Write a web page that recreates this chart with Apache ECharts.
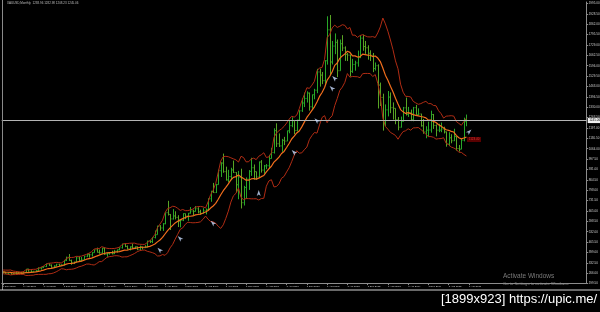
<!DOCTYPE html>
<html>
<head>
<meta charset="utf-8">
<script src="https://cdn.jsdelivr.net/npm/echarts@6/dist/echarts.min.js"></script>
<style>
html,body{margin:0;padding:0;background:#000;}
#c{width:600px;height:312px;}
</style>
</head>
<body>
<div id="c"></div>
<script>
// Monthly XAUUSD bars, Dec 2000 .. Mar 2016 (184 bars)
const monthNames = ['Jan','Feb','Mar','Apr','May','Jun','Jul','Aug','Sep','Oct','Nov','Dec'];
const startYear = 2000, startMonth = 11; // Dec 2000
const totalSlots = 231; // includes empty chart-shift area on the right

const closesBefore = [279,275,272,288,276,277,273,264,270]; // Mar..Nov 2000

const opens = [269,
 272,265,267,258,264,267,270,266,273,293,279,275,
 279,282,297,302,309,326,318,304,312,324,317,319,
 347,368,348,335,337,364,346,355,375,385,384,398,
 416,400,397,427,387,394,395,391,408,416,429,453,
 438,423,435,429,436,417,435,429,433,473,470,495,
 513,569,556,583,654,643,614,633,624,599,604,648,
 632,651,665,662,679,659,650,666,673,743,789,783,
 834,923,972,917,864,886,928,912,833,880,718,815,
 869,919,942,917,883,979,927,954,955,1001,1040,1180,
 1096,1082,1118,1113,1179,1212,1244,1181,1247,1307,1357,1386,
 1421,1333,1410,1439,1556,1536,1500,1628,1826,1620,1722,1746,
 1564,1737,1710,1669,1664,1560,1604,1614,1648,1773,1719,1711,
 1676,1663,1578,1596,1472,1393,1234,1313,1395,1327,1323,1250,
 1202,1240,1326,1284,1296,1250,1327,1282,1287,1211,1172,1183,
 1184,1283,1213,1183,1183,1190,1172,1095,1134,1115,1142,1065,
 1061,1118,1238];

const highs = [275,
 273,270,270,266,280,276,272,280,293,294,285,281,
 286,304,304,311,327,330,322,317,326,326,323,349,
 372,389,353,341,373,373,370,378,391,392,400,417,
 430,418,428,430,397,398,410,416,418,430,455,457,
 444,438,456,438,437,443,436,446,474,478,496,540,
 570,574,587,655,730,645,677,663,638,611,650,648,
 652,690,673,697,689,673,683,681,746,795,845,839,
 930,977,1033,949,929,942,988,914,922,936,826,880,
 927,1006,963,917,982,991,960,966,1025,1070,1195,1227,
 1162,1127,1140,1180,1249,1265,1244,1250,1310,1388,1424,1432,
 1424,1411,1448,1576,1577,1556,1632,1913,1921,1755,1803,1764,
 1764,1792,1720,1678,1668,1640,1628,1693,1790,1796,1755,1727,
 1695,1678,1617,1605,1488,1417,1348,1434,1425,1361,1323,1267,
 1270,1332,1392,1332,1315,1332,1345,1323,1288,1255,1208,1238,
 1308,1287,1220,1224,1232,1205,1174,1170,1157,1192,1143,1088,
 1128,1263,1283];

const lows = [266,
 262,256,255,255,262,264,263,265,269,276,271,273,
 277,281,289,299,306,313,302,301,311,312,315,316,
 344,346,320,325,336,342,342,351,369,366,373,398,
 399,391,392,384,371,385,387,389,398,413,424,433,
 418,412,425,421,414,414,418,429,432,460,459,489,
 513,538,537,580,636,543,610,611,562,560,600,613,
 602,648,637,661,650,642,648,643,670,724,781,780,
 834,883,910,860,849,862,909,786,740,681,700,742,
 800,890,865,866,882,911,904,933,938,1001,1033,1075,
 1075,1044,1087,1113,1163,1202,1157,1175,1242,1300,1331,1360,
 1308,1320,1381,1420,1462,1478,1480,1603,1535,1604,1670,1523,
 1564,1690,1627,1626,1527,1550,1564,1590,1645,1692,1672,1635,
 1626,1555,1565,1322,1338,1180,1208,1271,1292,1251,1221,1182,
 1200,1238,1277,1268,1241,1240,1281,1279,1206,1160,1131,1142,
 1167,1191,1143,1170,1170,1162,1077,1080,1099,1113,1052,1046,
 1061,1111,1208];

const closes = [272,
 265,267,258,264,267,270,266,273,293,279,275,279,
 282,297,302,309,326,318,304,312,324,317,319,347,
 368,348,335,337,364,346,355,375,385,384,398,416,
 400,397,427,387,394,395,391,408,416,429,453,438,
 423,435,429,436,417,435,429,433,473,470,495,513,
 569,556,583,654,643,614,633,624,599,604,648,632,
 651,665,662,679,659,650,666,673,743,789,783,834,
 923,972,917,864,886,928,912,833,880,718,815,869,
 919,942,917,883,979,927,954,955,1001,1040,1180,1096,
 1082,1118,1113,1179,1212,1244,1181,1247,1307,1357,1386,1421,
 1333,1410,1439,1556,1536,1500,1628,1826,1620,1722,1746,1564,
 1737,1710,1669,1664,1560,1604,1614,1648,1773,1719,1711,1676,
 1663,1578,1596,1472,1393,1234,1313,1395,1327,1323,1250,1202,
 1240,1326,1284,1296,1250,1327,1282,1287,1211,1172,1183,1184,
 1283,1213,1183,1183,1190,1172,1095,1134,1115,1142,1065,1061,
 1118,1238,1245];

// Arrow objects on the chart: [bar index, price]
const arrowPoints = [[61,429],[69,504],[82,602],[101,799],[114,1056],[123,1259],[129,1466],[130,1530],[185,1188]];
const redLabelPoint = [186,1123];
const redLabelText = '1123.40';
const currentPrice = 1245.06;
const headerText = 'XAUUSD,Monthly  1238.96 1282.98 1208.23 1245.06';

// y-axis ticks
const yMin = 199.5, yMax = 2004.5, yStep = 66.5;

// ---- build ----
const categories = [];
for (let i = 0; i < totalSlots; i++) {
  const m = (startMonth + i) % 12;
  const y = startYear + Math.floor((startMonth + i) / 12);
  categories.push('1 ' + monthNames[m] + ' ' + y);
}
const lastLabelIndex = 184;
const showLabel = (idx) => idx % 8 === 0 && idx <= lastLabelIndex;

// Bollinger Bands (10, 2) as drawn by the terminal
const allCloses = closesBefore.concat(closes);
const bbMid = [], bbUp = [], bbLo = [];
for (let i = 0; i < closes.length; i++) {
  const w = allCloses.slice(i, i + 10);
  const mean = w.reduce((a, b) => a + b, 0) / w.length;
  const sd = Math.sqrt(w.reduce((a, b) => a + (b - mean) * (b - mean), 0) / w.length);
  bbMid.push(+mean.toFixed(2));
  bbUp.push(+(mean + 2 * sd).toFixed(2));
  bbLo.push(+(mean - 2 * sd).toFixed(2));
}

const barData = closes.map((c, i) => [i, opens[i], highs[i], lows[i], c]);
const arrowRot = [45,45,45,0,45,45,45,45,-45];

const chart = echarts.init(document.getElementById('c'), null, {renderer:'canvas'});
chart.setOption({
  backgroundColor: '#000',
  animation: false,
  grid: {left: 1.7, right: 13.3, top: 2, bottom: 28.4, outerBoundsMode: 'none', containLabel: false},
  xAxis: {
    type: 'category', data: categories, boundaryGap: true,
    axisLine: {show: true, lineStyle: {color: '#8c8c8c', width: 1}},
    axisTick: {show: true, alignWithLabel: true, interval: (i) => showLabel(i), length: 1.5, lineStyle: {color: '#8c8c8c'}},
    axisLabel: {interval: (i) => showLabel(i), align: 'left', fontSize: 2.5, color: '#d8d8d8', margin: 1.5, fontFamily: 'Liberation Sans'},
    splitLine: {show: false}
  },
  yAxis: {
    type: 'value', position: 'right', min: yMin, max: yMax, interval: yStep, scale: true,
    axisLine: {show: true, lineStyle: {color: '#8c8c8c', width: 1}},
    axisTick: {show: true, length: 1.5, lineStyle: {color: '#8c8c8c'}},
    axisLabel: {showMaxLabel: false, fontSize: 3, color: '#d0d0d0', margin: 2, fontFamily: 'Liberation Sans', formatter: (v) => v.toFixed(2)},
    splitLine: {show: false}
  },
  series: [
    {
      type: 'custom', name: 'bars', data: barData, encode: {x: 0, y: [1, 2, 3, 4]}, z: 2,
      renderItem: function (params, api) {
        const i = api.value(0);
        const o = api.value(1), h = api.value(2), l = api.value(3), c = api.value(4);
        const pH = api.coord([i, h]), pL = api.coord([i, l]);
        const pO = api.coord([i, o]), pC = api.coord([i, c]);
        const x = Math.round(pH[0]) + 0.5;
        const col = c >= o ? '#28a828' : '#58a424';
        const st = {stroke: col, lineWidth: 1};
        return {type: 'group', children: [
          {type: 'line', shape: {x1: x, y1: pH[1], x2: x, y2: pL[1]}, style: st},
          {type: 'line', shape: {x1: x - 1, y1: pO[1], x2: x, y2: pO[1]}, style: st},
          {type: 'line', shape: {x1: x, y1: pC[1], x2: x + 1, y2: pC[1]}, style: st}
        ]};
      }
    },
    {type: 'line', name: 'upper', data: bbUp, symbol: 'none', smooth: false, z: 3, lineStyle: {color: '#b02c14', width: 1}},
    {type: 'line', name: 'lower', data: bbLo, symbol: 'none', smooth: false, z: 3, lineStyle: {color: '#b02c14', width: 1}},
    {type: 'line', name: 'middle', data: bbMid, symbol: 'none', smooth: false, z: 4, lineStyle: {color: '#f26e1c', width: 1.2},
      markLine: {
        silent: true, symbol: 'none', animation: false,
        lineStyle: {color: '#b4b4b4', type: 'solid', width: 1},
        label: {show: true, position: 'end', distance: 1, formatter: currentPrice.toFixed(2), color: '#000', backgroundColor: '#f0f0f0', fontSize: 3, padding: [1.2, 1.5, 1, 1.5], fontFamily: 'Liberation Sans'},
        data: [{yAxis: currentPrice}]
      }
    },
    {type: 'scatter', name: 'arrows', z: 5,
      data: arrowPoints.map((p, k) => ({value: p, symbolRotate: arrowRot[k]})),
      symbol: 'arrow', symbolSize: [3, 6], itemStyle: {color: '#c8dcff'}
    },
    {type: 'scatter', name: 'redlabel', z: 5, data: [redLabelPoint], symbol: 'rect', symbolSize: [14, 5],
      itemStyle: {color: '#6e0000'},
      label: {show: true, position: 'inside', formatter: redLabelText, color: '#ff4040', fontSize: 3, fontFamily: 'Liberation Sans'}
    }
  ],
  graphic: [
    {type: 'line', shape: {x1: 2.5, y1: 0, x2: 2.5, y2: 290}, style: {stroke: '#8a8a8a', lineWidth: 1}, z: 10},
    {type: 'line', shape: {x1: 0, y1: 290, x2: 600, y2: 290}, style: {stroke: '#d2d2d2', lineWidth: 1.2}, z: 10},
    {type: 'text', left: 7, top: 1.5, style: {text: headerText, fill: '#bdbdbd', fontSize: 3, fontFamily: 'Liberation Sans'}, z: 10},
    {type: 'text', left: 503, top: 272.5, style: {text: 'Activate Windows', fill: '#7a7a7a', fontSize: 6.5, fontFamily: 'Liberation Sans'}, z: 10},
    {type: 'text', left: 503, top: 282, style: {text: 'Go to Settings to activate Windows.', fill: '#8a8a8a', fontSize: 4.2, fontFamily: 'Liberation Sans'}, z: 10},
    {type: 'text', left: 441, top: 292.5, style: {text: '[1899x923] https://upic.me/', fill: '#ffffff', fontSize: 13, fontFamily: 'Liberation Sans'}, z: 10}
  ]
});
</script>
</body>
</html>
